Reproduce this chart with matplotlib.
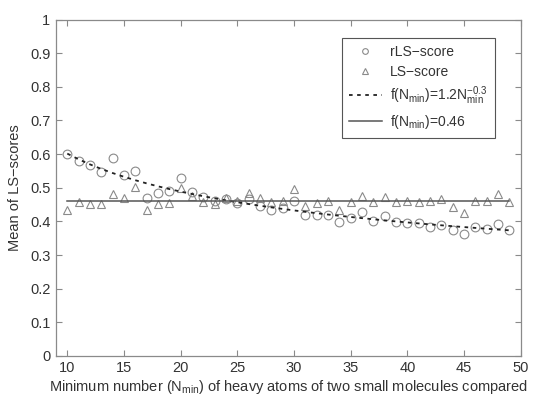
import numpy as np
import matplotlib
matplotlib.use('Agg')
import matplotlib.pyplot as plt

plt.rcParams['font.family'] = ['Liberation Sans', 'DejaVu Sans']
plt.rcParams['mathtext.fontset'] = 'custom'
plt.rcParams['mathtext.rm'] = 'Liberation Sans'
plt.rcParams['mathtext.it'] = 'Liberation Sans'

# minimum number of heavy atoms
n_min = np.arange(10, 50)

# rLS-score means
rls = [0.599, 0.580, 0.567, 0.547, 0.587, 0.539, 0.551, 0.470, 0.485, 0.491,
       0.528, 0.488, 0.472, 0.462, 0.466, 0.454, 0.466, 0.446, 0.434, 0.439,
       0.462, 0.420, 0.420, 0.420, 0.397, 0.411, 0.429, 0.402, 0.416, 0.399,
       0.394, 0.394, 0.382, 0.389, 0.374, 0.362, 0.384, 0.378, 0.391, 0.374]

# LS-score means
ls = [0.434, 0.457, 0.451, 0.451, 0.480, 0.469, 0.503, 0.434, 0.451, 0.456,
      0.500, 0.475, 0.457, 0.452, 0.468, 0.460, 0.483, 0.469, 0.457, 0.462,
      0.495, 0.446, 0.454, 0.461, 0.434, 0.457, 0.476, 0.459, 0.472, 0.459,
      0.460, 0.458, 0.461, 0.467, 0.442, 0.426, 0.460, 0.460, 0.480, 0.458]

# fitted models (from legend)
fit_a, fit_b = 1.2, -0.3
ls_const = 0.46

grey = '#8a8a8a'
text_c = '#333333'

fig = plt.figure(figsize=(5.38, 3.99), dpi=100)
ax = fig.add_axes([0.104, 0.108, 0.864, 0.843])

ax.plot(n_min, rls, 'o', ms=6.3, mfc='none', mec=grey, mew=0.8, label='rLS\u2212score')
ax.plot(n_min, ls, '^', ms=6.3, mfc='none', mec=grey, mew=0.8, label='LS\u2212score')
ax.plot(n_min, fit_a * n_min.astype(float) ** fit_b, color='#222222',
        lw=1.3, ls=(0, (2, 2.5)),
        label=r'f(N$_{\rm min}$)=1.2N$_{\rm min}^{-0.3}$')
ax.plot(n_min, np.full(len(n_min), ls_const), '-', color='#555555', lw=1.1,
        label=r'f(N$_{\rm min}$)=0.46')

ax.set_xlim(9, 50)
ax.set_ylim(0, 1)
ax.set_xticks(np.arange(10, 51, 5))
ax.set_yticks(np.arange(0, 1.01, 0.1))
ax.set_yticklabels(['0'] + ['%.1f' % v for v in np.arange(0.1, 0.95, 0.1)] + ['1'])

for s in ax.spines.values():
    s.set_color(grey)
    s.set_linewidth(0.9)
ax.tick_params(direction='in', top=True, right=True, length=4, width=0.8,
               color=grey, labelcolor=text_c, labelsize=10.5, pad=4)

ax.set_xlabel(r'Minimum number (N$_{\rm min}$) of heavy atoms of two small molecules compared',
              fontsize=10.5, color=text_c, labelpad=2)
ax.set_ylabel('Mean of LS\u2212scores', fontsize=10.5, color=text_c, labelpad=6)

leg = ax.legend(loc='upper right', bbox_to_anchor=(0.944, 0.944), fontsize=10,
                fancybox=False, edgecolor='#555555', framealpha=1,
                handlelength=2.4, labelspacing=0.4, borderpad=0.5,
                markerscale=0.65, handletextpad=0.6, borderaxespad=0)
leg.get_frame().set_linewidth(0.8)
for t in leg.get_texts():
    t.set_color(text_c)

fig.savefig('out.png', dpi=100)
